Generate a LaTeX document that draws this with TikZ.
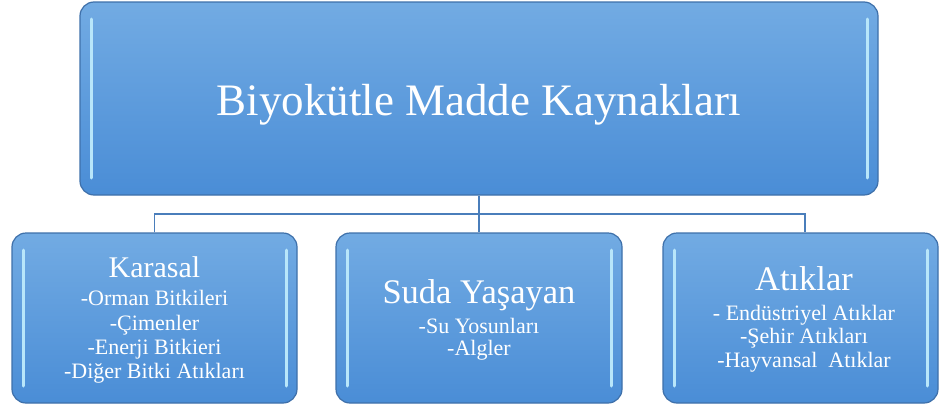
\documentclass[tikz,border=0pt]{standalone}
\usepackage{fontspec}
\setmainfont{Liberation Serif}
\definecolor{boxtop}{HTML}{72ABE3}
\definecolor{boxbot}{HTML}{4A8DD6}
\definecolor{boxedge}{HTML}{3E70AA}
\definecolor{glow}{HTML}{B8E6FA}
\definecolor{linkcol}{HTML}{4A7EBB}
\begin{document}
\begin{tikzpicture}[x=1pt,y=-1pt,
  gbox/.style={rounded corners=14pt, top color=boxtop, bottom color=boxbot,
    draw=boxedge, line width=1.2pt, inner sep=0pt,
    path picture={
      \draw[glow, line width=3pt, line cap=round]
        ([xshift=11pt,yshift=-17pt]path picture bounding box.north west) --
        ([xshift=11pt,yshift=17pt]path picture bounding box.south west);
      \draw[glow, line width=3pt, line cap=round]
        ([xshift=-11pt,yshift=-17pt]path picture bounding box.north east) --
        ([xshift=-11pt,yshift=17pt]path picture bounding box.south east);
    }},
  link/.style={draw=linkcol, line width=1.4pt},
  txt/.style={text=white, anchor=base, inner sep=0pt},
  head/.style={txt, font=\fontsize{30}{30}\selectfont},
  item/.style={txt, font=\fontsize{22}{22}\selectfont}]
\useasboundingbox (0,0) rectangle (940,407);

% boxes
\node[gbox, minimum width=798pt, minimum height=193pt] (top) at (479,98.5) {};
\node[gbox, minimum width=285pt, minimum height=170pt] (kar) at (154.5,318) {};
\node[gbox, minimum width=286pt, minimum height=170pt] (suda) at (479,318) {};
\node[gbox, minimum width=275pt, minimum height=170pt] (atik) at (800.5,318) {};

% connectors
\coordinate (bus) at (479,214);
\coordinate (atiktop) at ([xshift=4.5pt]atik.north);
\draw[link] (top.south) -- (suda.north);
\draw[link] (kar.north) |- (bus) -| (atiktop);

% title
\node[txt, font=\fontsize{45}{45}\selectfont] (title) at (479,115) {Biyokütle Madde Kaynakları};

% Karasal
\node[head] (k0) at (154.5,277) {Karasal};
\node[item] (k1) at (154.5,305) {-Orman Bitkileri};
\node[item] (k2) at (154.5,330) {-Çimenler};
\node[item] (k3) at (154.5,354) {-Enerji Bitkieri};
\node[item] (k4) at (154.5,378) {-Diğer Bitki Atıkları};

% Suda
\node[txt, font=\fontsize{34.5}{34.5}\selectfont] (s0) at (479,303) {Suda Yaşayan};
\node[item] (s1) at (479,333) {-Su Yosunları};
\node[item] (s2) at (479,355) {-Algler};

% Atiklar
\node[txt, font=\fontsize{34.5}{34.5}\selectfont] (a0) at (804,290) {Atıklar};
\node[item] (a1) at (804,320) {- Endüstriyel Atıklar};
\node[item] (a2) at (804,343) {-Şehir Atıkları};
\node[item] (a3) at (804,367) {-Hayvansal\ \ Atıklar};
\end{tikzpicture}
\end{document}
